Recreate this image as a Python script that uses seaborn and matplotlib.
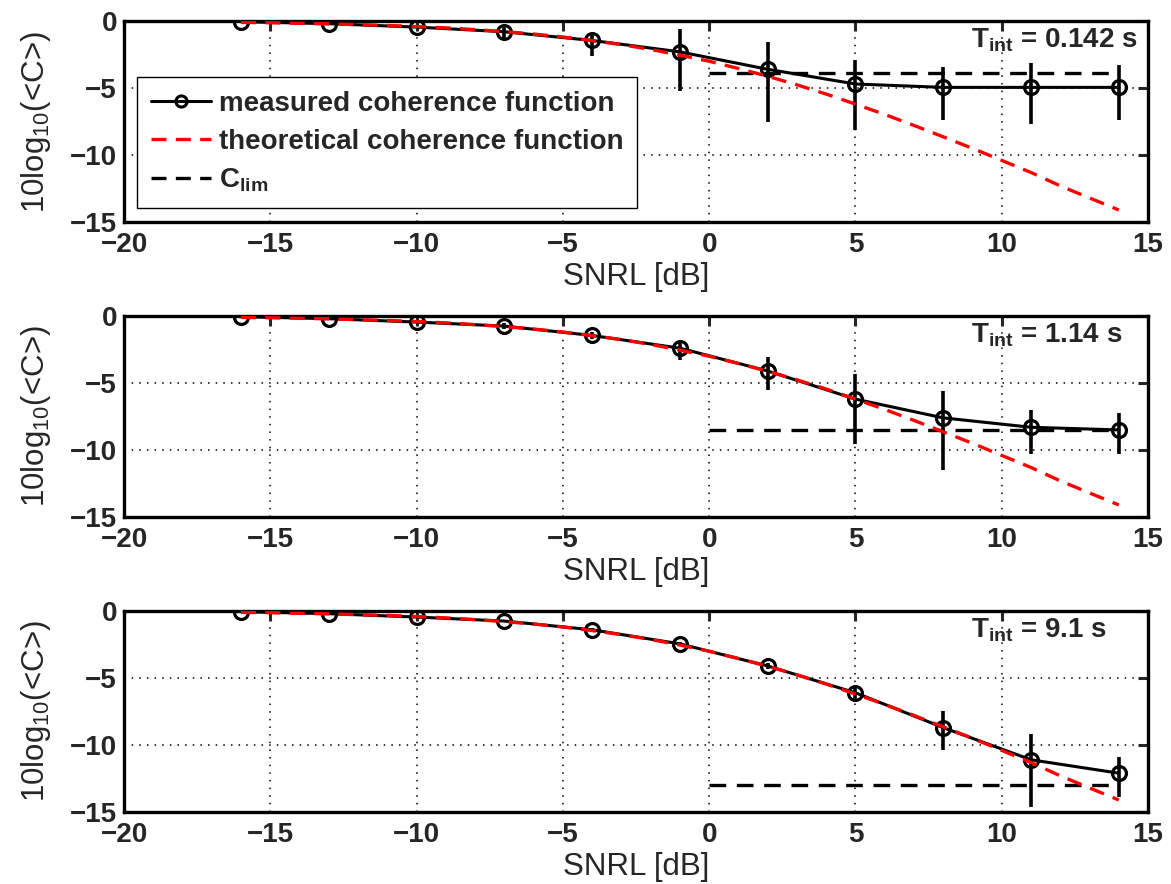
import numpy as np
import pandas as pd
import seaborn as sns
import matplotlib
matplotlib.use("Agg")
import matplotlib.pyplot as plt
from matplotlib.lines import Line2D

# measurement SNRL points [dB]
snrl = [-16, -13, -10, -7, -4, -1, 2, 5, 8, 11, 14]

# theoretical curve (1 dB steps)
snrl_theory = list(range(-16, 15))
c_theory = [-0.10, -0.13, -0.17, -0.21, -0.27, -0.33, -0.41, -0.51, -0.64, -0.79,
            -0.97, -1.19, -1.46, -1.76, -2.12, -2.54, -3.00, -3.54, -4.12, -4.76,
            -5.45, -6.20, -6.97, -7.79, -8.64, -9.50, -10.40, -11.30, -12.30,
            -13.20, -14.10]

# panel 1: T_int = 0.142 s
c_meas_1 = [-0.05, -0.2, -0.45, -0.8, -1.45, -2.3, -3.6, -4.7, -4.95, -4.95, -4.95]
err_hi_1 = [-0.05, -0.1, -0.35, -0.3, -0.9, -0.6, -1.6, -2.9, -3.4, -3.1, -3.3]
err_lo_1 = [-0.1, -0.3, -0.55, -1.45, -2.6, -5.25, -7.5, -8.1, -7.4, -7.7, -7.4]
c_lim_1 = -3.9

# panel 2: T_int = 1.14 s
c_meas_2 = [-0.05, -0.2, -0.45, -0.75, -1.45, -2.4, -4.1, -6.2, -7.6, -8.3, -8.5]
err_hi_2 = [-0.05, -0.1, -0.35, -0.55, -1.2, -1.9, -3.05, -4.3, -5.6, -7.0, -7.25]
err_lo_2 = [-0.1, -0.3, -0.55, -0.95, -1.7, -3.25, -5.55, -9.55, -11.5, -10.3, -10.3]
c_lim_2 = -8.5

# panel 3: T_int = 9.1 s
c_meas_3 = [-0.05, -0.2, -0.45, -0.75, -1.4, -2.45, -4.1, -6.1, -8.7, -11.1, -12.1]
err_hi_3 = [-0.05, -0.1, -0.4, -0.65, -1.3, -2.3, -3.9, -5.6, -7.45, -9.2, -10.9]
err_lo_3 = [-0.1, -0.3, -0.5, -0.85, -1.5, -2.6, -4.3, -6.8, -10.4, -14.65, -13.9]
c_lim_3 = -13.0

panels = [
    ("0.142 s", c_meas_1, err_hi_1, err_lo_1, c_lim_1),
    ("1.14 s", c_meas_2, err_hi_2, err_lo_2, c_lim_2),
    ("9.1 s", c_meas_3, err_hi_3, err_lo_3, c_lim_3),
]

sns.set_style("white")
plt.rcParams["font.family"] = ["Liberation Sans", "DejaVu Sans"]
plt.rcParams["mathtext.fontset"] = "custom"
plt.rcParams["mathtext.rm"] = "Liberation Sans"
plt.rcParams["mathtext.bf"] = "Liberation Sans:bold"
plt.rcParams["mathtext.default"] = "regular"

FS = 20      # tick labels, legend, annotations (bold)
LFS = 22.5   # axis labels (regular)
fig = plt.figure(figsize=(11.71, 8.84), dpi=100)
tops = [0.9762, 0.6425, 0.3088]
height = 0.2274

for i, (tint, meas, hi, lo, clim) in enumerate(panels):
    ax = fig.add_axes([0.1059, tops[i] - height, 0.8745, height])
    df = pd.DataFrame({"snrl": snrl, "c": meas})
    meas_arr = np.array(meas)
    yerr = np.vstack([meas_arr - np.array(lo), np.array(hi) - meas_arr])

    sns.lineplot(data=df, x="snrl", y="c", ax=ax, color="k", lw=2.2,
                 marker="o", markersize=10, markerfacecolor="none",
                 markeredgecolor="k", markeredgewidth=2.3, zorder=3)
    ax.errorbar(snrl, meas, yerr=yerr, fmt="none", ecolor="k",
                elinewidth=2.6, capsize=0, zorder=4)

    # C_lim level from 0 dB onwards
    ax.plot([0, 14], [clim, clim], color="k", lw=2.4, dashes=(5, 3.2), zorder=2)

    sns.lineplot(x=snrl_theory, y=c_theory, ax=ax, color="red", lw=2.4, zorder=5)
    ax.lines[-1].set_dashes((4.5, 2.8))

    ax.set_xlim(-20, 15)
    ax.set_ylim(-15, 0)
    ax.set_xticks(range(-20, 16, 5))
    ax.set_yticks([-15, -10, -5, 0])
    ax.grid(True, color="k", ls=(0, (1, 4)), lw=1.1)
    ax.tick_params(direction="in", length=7, width=2.2, top=True, right=True,
                   labelsize=FS)
    ax.tick_params(axis="x", pad=7)
    ax.tick_params(axis="y", pad=5)
    for lab in ax.get_xticklabels() + ax.get_yticklabels():
        lab.set_fontweight("bold")
    for sp in ax.spines.values():
        sp.set_linewidth(2.4)
        sp.set_color("k")
    ax.set_xlabel("SNRL [dB]", fontsize=LFS, labelpad=3)
    ax.set_ylabel("10log$_{10}$(<C>)", fontsize=LFS, labelpad=12)

    ax.text(8.95, -1.45, r"T$_{\mathbf{int}}$ = " + tint, fontsize=FS,
            fontweight="bold", ha="left", va="center", zorder=6)

    if i == 0:
        handles = [
            Line2D([], [], color="k", lw=2.2, marker="o", markersize=8,
                   markerfacecolor="none", markeredgewidth=2.2),
            Line2D([], [], color="red", lw=2.4, dashes=(4.5, 2.8)),
            Line2D([], [], color="k", lw=2.4, dashes=(4.5, 2.8)),
        ]
        labels = ["measured coherence function", "theoretical coherence function",
                  r"C$_{\mathbf{lim}}$"]
        leg = ax.legend(handles, labels, loc="upper left",
                        bbox_to_anchor=(0.0127, 0.721), borderaxespad=0,
                        prop={"weight": "bold", "size": FS}, frameon=True,
                        fancybox=False, edgecolor="k", framealpha=1,
                        handlelength=2.15, handletextpad=0.3, borderpad=0.5,
                        labelspacing=0.42)
        leg.get_frame().set_linewidth(1.0)
        leg.set_zorder(10)

fig.savefig("out.png", dpi=100)
